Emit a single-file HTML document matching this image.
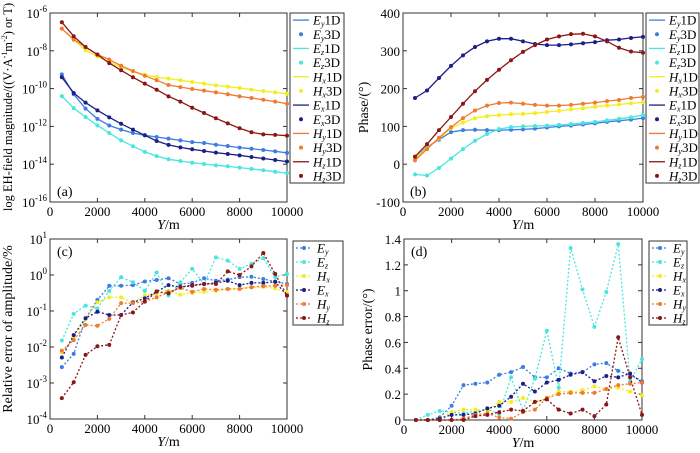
<!DOCTYPE html>
<html><head><meta charset="utf-8"><style>
body{margin:0;background:#fff}
svg{display:block;font-family:"Liberation Serif",serif}
</style></head><body>
<svg id="c" width="700" height="453" viewBox="0 0 700 453" xmlns="http://www.w3.org/2000/svg"></svg>
<script>
const xs=[500,1000,1500,2000,2500,3000,3500,4000,4500,5000,5500,6000,6500,7000,7500,8000,8500,9000,9500,10000];
// panel a: log10 magnitude
const aEy=[-9.25,-10.3,-11.06,-11.6,-11.95,-12.17,-12.35,-12.47,-12.56,-12.65,-12.74,-12.83,-12.88,-12.97,-13.04,-13.12,-13.18,-13.25,-13.32,-13.4];
const aEz=[-10.4,-11.03,-11.5,-11.95,-12.35,-12.74,-13.05,-13.35,-13.57,-13.74,-13.83,-13.92,-13.99,-14.06,-14.11,-14.18,-14.25,-14.32,-14.4,-14.47];
const aHx=[-6.83,-7.41,-7.97,-8.3,-8.6,-8.86,-9.09,-9.26,-9.39,-9.47,-9.56,-9.65,-9.74,-9.83,-9.9,-9.97,-10.06,-10.13,-10.2,-10.27];
const aEx=[-9.4,-10.23,-10.74,-11.15,-11.52,-11.86,-12.17,-12.47,-12.77,-12.98,-13.11,-13.21,-13.3,-13.39,-13.46,-13.53,-13.62,-13.7,-13.78,-13.86];
const aHy=[-6.83,-7.41,-7.8,-8.19,-8.47,-8.79,-9.07,-9.32,-9.56,-9.81,-9.92,-10.02,-10.11,-10.2,-10.3,-10.41,-10.5,-10.59,-10.69,-10.8];
const aHz=[-6.49,-7.23,-7.8,-8.2,-8.65,-9.03,-9.4,-9.74,-10.06,-10.41,-10.69,-11.01,-11.29,-11.57,-11.84,-12.1,-12.31,-12.42,-12.45,-12.49];
// panel b: phase
const bEy=[15,45,65,85,90,91,90,90,91,92,94,97,100,102,105,108,112,115,118,122];
const bEz=[-27,-30,-10,15,40,62,80,93,98,100,101,102,104,106,109,112,116,120,124,130];
const bHx=[15,42,68,95,110,122,127,130,132,133,135,138,141,145,148,152,155,158,161,164];
const bEx=[175,195,228,260,288,310,325,332,332,325,318,315,315,317,320,323,328,330,334,337];
const bHy=[10,40,70,98,122,142,155,162,163,160,157,155,155,157,160,163,167,170,175,178];
const bHz=[20,53,90,125,160,193,223,250,275,297,315,330,338,344,345,338,325,308,298,295];
// panel c: log10 relative amplitude error
const cEy=[-2.56,-2.19,-1.22,-0.69,-0.3,-0.3,-0.28,-0.18,-0.14,-0.09,-0.25,-0.22,-0.09,-0.16,-0.13,-0.06,-0.05,-0.11,-0.18,-0.25];
const cEz=[-1.82,-1.08,-0.85,-0.93,-0.44,-0.06,-0.2,-0.44,0.07,-0.57,-0.2,0.17,-0.25,0.49,0.4,0.17,0.31,0.47,-0.06,0.03];
const cHx=[-2.15,-1.73,-1.22,-0.76,-0.62,-0.62,-0.76,-0.57,-0.53,-0.44,-0.55,-0.5,-0.47,-0.44,-0.39,-0.37,-0.34,-0.33,-0.37,-0.48];
const cEx=[-2.29,-1.67,-1.2,-1.02,-1.11,-1.11,-0.76,-0.65,-0.46,-0.28,-0.34,-0.28,-0.25,-0.22,-0.16,-0.28,-0.22,-0.22,-0.19,-0.57];
const cHy=[-2.1,-1.81,-1.39,-1.41,-1.22,-0.78,-0.78,-0.74,-0.62,-0.48,-0.36,-0.47,-0.39,-0.41,-0.39,-0.39,-0.34,-0.31,-0.3,-0.28];
const cHz=[-3.42,-2.98,-2.22,-1.98,-1.94,-1.11,-1.04,-0.74,-0.46,-0.51,-0.33,-0.3,-0.25,-0.25,0.1,0,0.24,0.61,0.03,-0.57];
// panel d: phase error
const dEy=[0,0,0.02,0.11,0.27,0.28,0.29,0.35,0.37,0.41,0.33,0.33,0.40,0.36,0.37,0.43,0.44,0.38,0.35,0.30];
const dEz=[0,0.04,0.07,0.06,0.05,0.07,0.08,0.05,0.33,0.07,0.32,0.69,0.25,1.33,1.01,0.72,0.99,1.36,0.30,0.47];
const dHx=[0,0,0.01,0.06,0.08,0.08,0.07,0.14,0.14,0.17,0.14,0.17,0.22,0.22,0.23,0.26,0.24,0.25,0.22,0.19];
const dEx=[0,0,0.01,0.04,0.04,0.05,0.09,0.11,0.18,0.28,0.22,0.29,0.31,0.35,0.37,0.30,0.34,0.33,0.36,0.29];
const dHy=[0,0,0,0,0.01,0.04,0.05,0.02,0.01,0.06,0.08,0.17,0.20,0.21,0.21,0.21,0.24,0.27,0.28,0.29];
const dHz=[0,0,0,0,0,0.03,0.04,0.06,0.08,0.07,0.14,0.16,0.08,0.05,0.08,0.03,0.12,0.64,0.33,0.04];
const xTicks=[0,2000,4000,6000,8000,10000];

const COL={Ey:'#3b7de0',Ez:'#48e6dc',Hx:'#f2ee1e',Ex:'#1c1f85',Hy:'#f07a30',Hz:'#8a1616'};
const NS='http://www.w3.org/2000/svg';
const svg=document.getElementById('c');
function el(t,a,p){const e=document.createElementNS(NS,t);for(const k in a)e.setAttribute(k,a[k]);(p||svg).appendChild(e);return e;}

function panel(o){
  const g=el('g',{});
  
  
  const X=v=>o.x0+(v-0)/10000*(o.x1-o.x0);
  const Y=v=>o.y1-(v-o.ymin)/(o.ymax-o.ymin)*(o.y1-o.y0);
  const fr=el('rect',{x:o.x0,y:o.y0,width:o.x1-o.x0,height:o.y1-o.y0,fill:'none',stroke:'#333','stroke-width':1},g);
  
  xTicks.forEach(t=>{
    el('line',{x1:X(t),x2:X(t),y1:o.y1,y2:o.y1-4,stroke:'#333'},g);
    el('line',{x1:X(t),x2:X(t),y1:o.y0,y2:o.y0+4,stroke:'#333'},g);
    const tx=el('text',{x:X(t),y:o.y1+14,'font-size':13,'text-anchor':'middle'},g);
    tx.textContent=t;
    
  });
  o.yTicks.forEach((t,i)=>{
    el('line',{x1:o.x0,x2:o.x0+4,y1:Y(t),y2:Y(t),stroke:'#333'},g);
    el('line',{x1:o.x1,x2:o.x1-4,y1:Y(t),y2:Y(t),stroke:'#333'},g);
    const tx=el('text',{x:o.x0-3,y:Y(t)+5,'font-size':13,'text-anchor':'end'},g);
    
    if(o.log){const a=el('tspan',{},tx);a.textContent='10';const b=el('tspan',{dy:-6,'font-size':9},tx);b.textContent=t;}
    else tx.textContent=t;
  });
  const xt=el('text',{x:(o.x0+o.x1)/2,y:o.y1+27,'font-size':14,'text-anchor':'middle'},g);
  
  const it=el('tspan',{'font-style':'italic'},xt);it.textContent='Y';const r=el('tspan',{},xt);r.textContent='/m';
  const yt=el('text',{x:0,y:0,'font-size':o.ytfs||14,'text-anchor':'middle',transform:`translate(${o.ytx},${o.ytc||(o.y0+o.y1)/2}) rotate(-90)`},g);
  
  yt.innerHTML=o.ytitle;
  const pl=el('text',{x:o.x0+7,y:o.plY,'font-size':14},g);
  pl.textContent=o.plabel;
  o.series.forEach(s=>{
    const pts=xs.map((x,i)=>X(x).toFixed(1)+','+Y(s.v[i]).toFixed(1)).join(' ');
    const ln=el('polyline',{points:pts,fill:'none',stroke:COL[s.k],'stroke-width':1.3,'stroke-dasharray':o.dash?'2,2':'none'},g);
    
    xs.forEach((x,i)=>{
      const c=el('circle',{cx:X(x),cy:Y(s.v[i]),r:2,fill:COL[s.k]},g);
      
    });
  });
  const lg=el('g',{},g);
  
  el('rect',{x:o.lx0,y:o.ly0,width:o.lx1-o.lx0,height:o.ly1-o.ly0,fill:'#fff',stroke:'#333'},lg);
  const n=o.legend.length,h=(o.ly1-o.ly0)/n;
  o.legend.forEach((L,i)=>{
    const cy=o.ly0+h*(i+0.5);
    const e=el('g',{},lg);
    
    if(L.t==='line') el('line',{x1:o.lx0+3,x2:o.lx0+19,y1:cy,y2:cy,stroke:COL[L.k],'stroke-width':1.3},e);
    else if(L.t==='dot') el('circle',{cx:o.lx0+11,cy:cy,r:2,fill:COL[L.k]},e);
    else {el('line',{x1:o.lx0+3,x2:o.lx0+19,y1:cy,y2:cy,stroke:COL[L.k],'stroke-width':1.3,'stroke-dasharray':'2,2'},e);el('circle',{cx:o.lx0+11,cy:cy,r:2,fill:COL[L.k]},e);}
    const tx=el('text',{x:o.lx0+(L.t==='dl'?24:23),y:cy+4.5,'font-size':13},e);
    const a=el('tspan',{'font-style':'italic'},tx);a.textContent=L.k[0];
    const b=el('tspan',{'font-size':8,dy:2,'font-style':'italic'},tx);b.textContent=L.k[1];
    if(L.s){const c=el('tspan',{dy:-2},tx);c.textContent=L.s;}
  });
}
const order=['Ey','Ez','Hx','Ex','Hy','Hz'];
const leg12=[];order.forEach(k=>{leg12.push({k,t:'line',s:'1D'});leg12.push({k,t:'dot',s:'3D'});});
const leg6=order.map(k=>({k,t:'dl'}));
panel({name:'panel-a-magnitude',x0:50,x1:287,y0:13,y1:202,ymin:-16,ymax:-6,log:true,yTicks:[-16,-14,-12,-10,-8,-6],
  ytx:12,ytc:107,ytfs:12.5,ytitle:'<tspan>log EH-field magnitude/((V·A</tspan><tspan font-size="8" dy="-5">-1</tspan><tspan dy="5">m</tspan><tspan font-size="8" dy="-5">-2</tspan><tspan dy="5">) or T)</tspan>',
  plabel:'(a)',plY:196,
  series:[{k:'Ey',v:aEy},{k:'Ez',v:aEz},{k:'Hx',v:aHx},{k:'Ex',v:aEx},{k:'Hy',v:aHy},{k:'Hz',v:aHz}],
  lx0:290,lx1:344,ly0:13,ly1:183,legend:leg12});
panel({name:'panel-b-phase',x0:403,x1:643,y0:13,y1:202,ymin:-100,ymax:400,yTicks:[-100,0,100,200,300,400],
  ytx:368,ytitle:'Phase/(°)',plabel:'(b)',plY:196,
  series:[{k:'Ey',v:bEy},{k:'Ez',v:bEz},{k:'Hx',v:bHx},{k:'Ex',v:bEx},{k:'Hy',v:bHy},{k:'Hz',v:bHz}],
  lx0:646,lx1:699,ly0:13,ly1:183,legend:leg12});
panel({name:'panel-c-amplitude-error',x0:50,x1:287,y0:239,y1:419,ymin:-4,ymax:1,log:true,yTicks:[-4,-3,-2,-1,0,1],dash:true,
  ytx:12,ytitle:'Relative error of amplitude/%',plabel:'(c)',plY:256,
  series:[{k:'Ey',v:cEy},{k:'Ez',v:cEz},{k:'Hx',v:cHx},{k:'Ex',v:cEx},{k:'Hy',v:cHy},{k:'Hz',v:cHz}],
  lx0:293,lx1:343,ly0:241,ly1:325,legend:leg6});
panel({name:'panel-d-phase-error',x0:404,x1:642,y0:239,y1:420,ymin:0,ymax:1.4,yTicks:[0,0.2,0.4,0.6,0.8,1,1.2,1.4],dash:true,
  ytx:372,ytitle:'Phase error/(°)',plabel:'(d)',plY:256,
  series:[{k:'Ey',v:dEy},{k:'Ez',v:dEz},{k:'Hx',v:dHx},{k:'Ex',v:dEx},{k:'Hy',v:dHy},{k:'Hz',v:dHz}],
  lx0:649,lx1:687,ly0:241,ly1:325,legend:leg6});
</script>
</body></html>
